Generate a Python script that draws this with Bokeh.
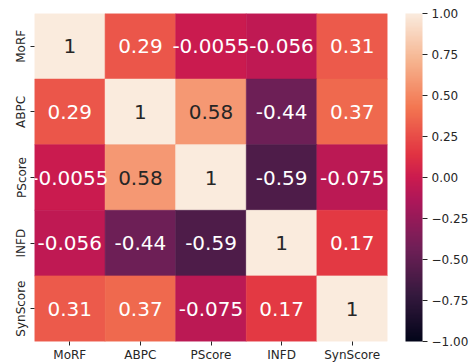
import numpy as np
from bokeh.plotting import figure
from bokeh.models import (ColumnDataSource, LinearColorMapper, ColorBar, FixedTicker,
                          CustomJSTickFormatter, FactorRange, CategoricalAxis)
from bokeh.embed import file_html
from bokeh.resources import INLINE

labels = ["MoRF", "ABPC", "PScore", "INFD", "SynScore"]
row_morf = [1, 0.29, -0.0055, -0.056, 0.31]
row_abpc = [0.29, 1, 0.58, -0.44, 0.37]
row_pscore = [-0.0055, 0.58, 1, -0.59, -0.075]
row_infd = [-0.056, -0.44, -0.59, 1, 0.17]
row_synscore = [0.31, 0.37, -0.075, 0.17, 1]
rows = [row_morf, row_abpc, row_pscore, row_infd, row_synscore]
cbar_ticks = [-1.0, -0.75, -0.5, -0.25, 0.0, 0.25, 0.5, 0.75, 1.0]

# approximate seaborn "rocket" colormap
anchors = [(0.0, "#03051A"), (1/7, "#35193E"), (2/7, "#701F57"), (3/7, "#AD1759"),
           (0.5, "#CB1B4F"), (4/7, "#E13342"), (5/7, "#F37651"), (6/7, "#F6B48F"),
           (1.0, "#FAEBDD")]
def hex2rgb(h):
    h = h.lstrip("#")
    return np.array([int(h[i:i+2], 16) for i in (0, 2, 4)], dtype=float)
pos = np.array([a[0] for a in anchors])
cols = np.array([hex2rgb(a[1]) for a in anchors])
ts = np.linspace(0, 1, 256)
palette_rgb = np.stack([np.interp(ts, pos, cols[:, k]) for k in range(3)], axis=1)
palette = ["#%02x%02x%02x" % tuple(int(round(c)) for c in rgb) for rgb in palette_rgb]

def lum(rgb):
    c = rgb / 255.0
    c = np.where(c <= 0.03928, c / 12.92, ((c + 0.055) / 1.055) ** 2.4)
    return 0.2126 * c[0] + 0.7152 * c[1] + 0.0722 * c[2]

xs, ys, vs, txt, tcol = [], [], [], [], []
for i, r in enumerate(rows):
    for j, v in enumerate(r):
        xs.append(labels[j]); ys.append(labels[i]); vs.append(v)
        txt.append(format(v, ".2g"))
        idx = int(round((v + 1) / 2 * 255))
        tcol.append("#262626" if lum(palette_rgb[idx]) > 0.408 else "#ffffff")

src = ColumnDataSource(dict(x=xs, y=ys, v=vs, t=txt, tc=tcol))
mapper = LinearColorMapper(palette=palette, low=-1, high=1)

p = figure(frame_width=353, frame_height=328, output_backend="svg", toolbar_location=None,
           x_range=FactorRange(*labels), y_range=FactorRange(*labels[::-1]),
           min_border_left=34, min_border_top=13, min_border_bottom=0, min_border_right=0)
p.rect(x="x", y="y", width=1, height=1, source=src,
       fill_color={"field": "v", "transform": mapper},
       line_color={"field": "v", "transform": mapper}, line_width=0.6)
p.text(x="x", y="y", text="t", source=src, text_color="tc", text_align="center",
       text_baseline="middle", text_font_size="20px", text_font={"value": "DejaVu Sans"})

for ax in (p.xaxis[0], p.yaxis[0]):
    ax.axis_line_color = None
    ax.major_tick_in = 0
    ax.major_tick_out = 4
    ax.major_tick_line_color = "#262626"
    ax.major_label_text_font = "DejaVu Sans"
    ax.major_label_text_font_size = "12px"
    ax.major_label_text_color = "#262626"
    ax.major_label_standoff = 2
p.yaxis.major_label_orientation = "vertical"
p.grid.visible = False
p.outline_line_color = None

# invisible spacer between heatmap and colour bar
spacer = CategoricalAxis(axis_line_color=None, major_tick_line_color=None,
                         minor_tick_line_color=None, major_tick_in=0, major_tick_out=18,
                         minor_tick_out=0, major_label_standoff=0,
                         major_label_text_font_size="0px", major_label_text_color=None)
p.add_layout(spacer, "right")

fmt = CustomJSTickFormatter(code="return (tick < 0 ? '\u2212' : '') + Math.abs(tick).toFixed(2);")
cb = ColorBar(color_mapper=mapper, width=17, padding=0, margin=0,
              ticker=FixedTicker(ticks=cbar_ticks), formatter=fmt,
              major_tick_in=0, major_tick_out=5, major_tick_line_color="#262626",
              minor_tick_line_color=None, bar_line_color=None,
              major_label_text_font="DejaVu Sans", major_label_text_font_size="12px",
              major_label_text_color="#262626", label_standoff=4)
p.add_layout(cb, "right")

open("out.html", "w").write(file_html(p, INLINE))
